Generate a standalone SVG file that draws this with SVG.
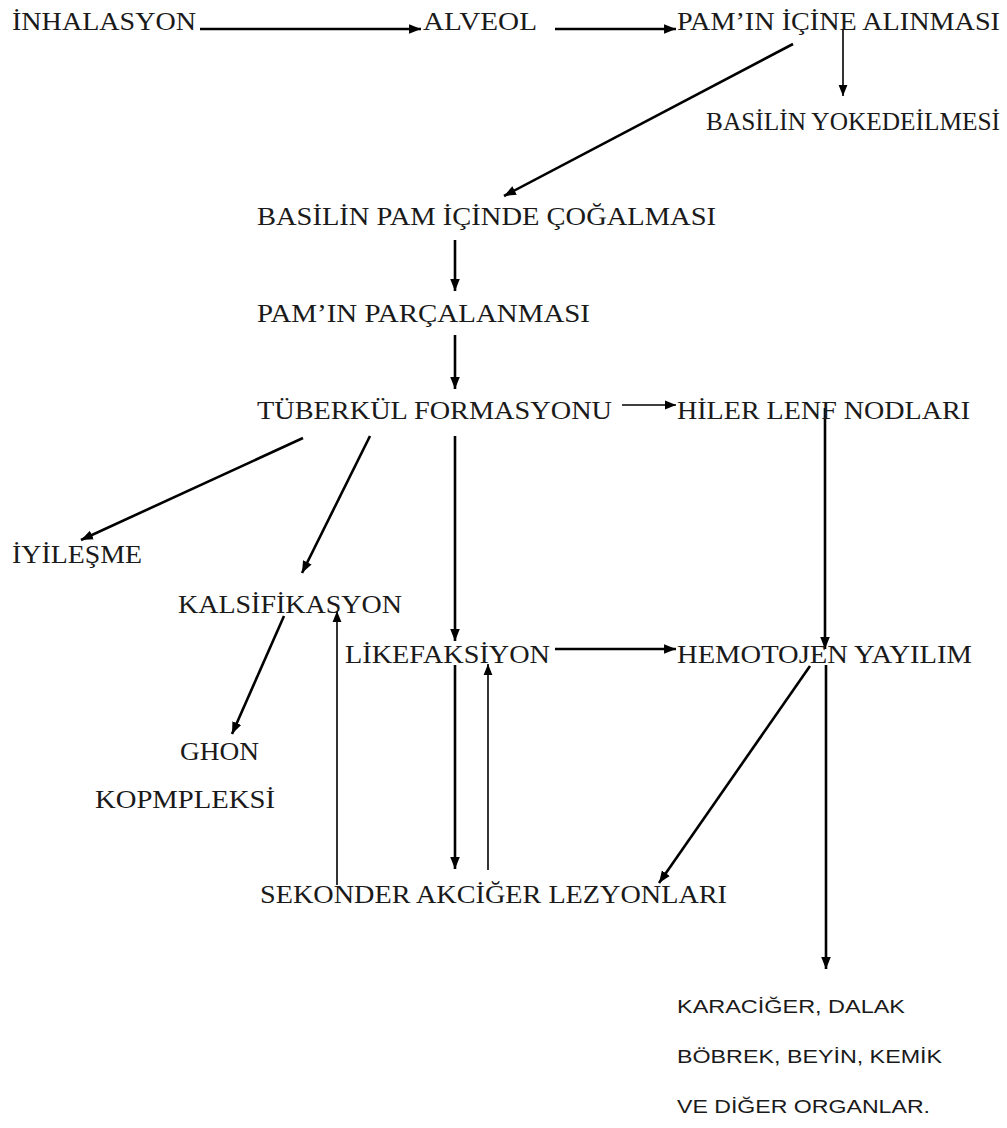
<svg xmlns="http://www.w3.org/2000/svg" width="1007" height="1128" viewBox="0 0 1007 1128">
<style>
.t{font-family:"Liberation Serif","Times New Roman",serif;font-size:26px;fill:#1a1a1a}
.s{font-family:"Liberation Sans",Arial,sans-serif;font-size:19px;fill:#1a1a1a}
.c{stroke:#000;fill:none}
.k{stroke-width:2.6}
.n{stroke-width:1.6}
</style>
<defs>
<marker id="a" viewBox="0 0 10 10" refX="10" refY="5" markerWidth="4.6" markerHeight="4.6" orient="auto" markerUnits="strokeWidth"><path d="M0,1 L10,5 L0,9 z" fill="#000"/></marker>
<marker id="b" viewBox="0 0 10 10" refX="10" refY="5" markerWidth="7" markerHeight="7" orient="auto" markerUnits="strokeWidth"><path d="M0,1 L10,5 L0,9 z" fill="#000"/></marker>
</defs>
<rect width="1007" height="1128" fill="#fff"/>
<g id="connectors">
<line class="c k" x1="200" y1="29" x2="421" y2="29" marker-end="url(#a)"/>
<line class="c k" x1="555" y1="29" x2="676" y2="29" marker-end="url(#a)"/>
<line class="c n" x1="843" y1="30" x2="843" y2="96" marker-end="url(#b)"/>
<line class="c k" x1="793" y1="44" x2="504" y2="196" marker-end="url(#a)"/>
<line class="c k" x1="455" y1="240" x2="455" y2="291" marker-end="url(#a)"/>
<line class="c k" x1="455" y1="335" x2="455" y2="389" marker-end="url(#a)"/>
<line class="c n" x1="622" y1="405" x2="676" y2="405" marker-end="url(#b)"/>
<line class="c k" x1="825" y1="408" x2="825" y2="649" marker-end="url(#a)"/>
<line class="c k" x1="303" y1="438" x2="81" y2="540" marker-end="url(#a)"/>
<line class="c k" x1="370" y1="436" x2="302" y2="573" marker-end="url(#a)"/>
<line class="c k" x1="455" y1="436" x2="455" y2="641" marker-end="url(#a)"/>
<line class="c k" x1="555" y1="649" x2="676" y2="649" marker-end="url(#a)"/>
<line class="c k" x1="284" y1="616" x2="232" y2="734" marker-end="url(#a)"/>
<line class="c n" x1="337" y1="885" x2="337" y2="611" marker-end="url(#b)"/>
<line class="c k" x1="455" y1="665" x2="455" y2="869" marker-end="url(#a)"/>
<line class="c n" x1="488" y1="870" x2="488" y2="664" marker-end="url(#b)"/>
<line class="c k" x1="810" y1="666" x2="659" y2="883" marker-end="url(#a)"/>
<line class="c k" x1="826" y1="665" x2="826" y2="969" marker-end="url(#a)"/>
</g>
<g id="n1"><text class="t" x="12" y="30" textLength="184" lengthAdjust="spacingAndGlyphs">İNHALASYON</text></g>
<g id="n2"><text class="t" x="423" y="30" textLength="114" lengthAdjust="spacingAndGlyphs">ALVEOL</text></g>
<g id="n3"><text class="t" x="677" y="30" textLength="323" lengthAdjust="spacingAndGlyphs">PAM’IN İÇİNE ALINMASI</text></g>
<g id="n4"><text class="t" x="706" y="130" textLength="294" lengthAdjust="spacingAndGlyphs">BASİLİN YOKEDEİLMESİ</text></g>
<g id="n5"><text class="t" x="257" y="225" textLength="459" lengthAdjust="spacingAndGlyphs">BASİLİN PAM İÇİNDE ÇOĞALMASI</text></g>
<g id="n6"><text class="t" x="257" y="322" textLength="333" lengthAdjust="spacingAndGlyphs">PAM’IN PARÇALANMASI</text></g>
<g id="n7"><text class="t" x="257" y="419" textLength="355" lengthAdjust="spacingAndGlyphs">TÜBERKÜL FORMASYONU</text></g>
<g id="n8"><text class="t" x="677" y="419" textLength="293" lengthAdjust="spacingAndGlyphs">HİLER LENF NODLARI</text></g>
<g id="n9"><text class="t" x="12" y="563" textLength="130" lengthAdjust="spacingAndGlyphs">İYİLEŞME</text></g>
<g id="n10"><text class="t" x="178" y="613" textLength="224" lengthAdjust="spacingAndGlyphs">KALSİFİKASYON</text></g>
<g id="n11"><text class="t" x="345" y="663" textLength="205" lengthAdjust="spacingAndGlyphs">LİKEFAKSİYON</text></g>
<g id="n12"><text class="t" x="677" y="663" textLength="295" lengthAdjust="spacingAndGlyphs">HEMOTOJEN YAYILIM</text></g>
<g id="n13"><text class="t" x="180" y="760" textLength="79" lengthAdjust="spacingAndGlyphs">GHON</text><text class="t" x="95" y="808" textLength="180" lengthAdjust="spacingAndGlyphs">KOPMPLEKSİ</text></g>
<g id="n14"><text class="t" x="260" y="903" textLength="467" lengthAdjust="spacingAndGlyphs">SEKONDER AKCİĞER LEZYONLARI</text></g>
<g id="n15"><text class="s" x="677" y="1013" textLength="228" lengthAdjust="spacingAndGlyphs">KARACİĞER, DALAK</text><text class="s" x="677" y="1063" textLength="265" lengthAdjust="spacingAndGlyphs">BÖBREK, BEYİN, KEMİK</text><text class="s" x="677" y="1113" textLength="253" lengthAdjust="spacingAndGlyphs">VE DİĞER ORGANLAR.</text></g>
</svg>
